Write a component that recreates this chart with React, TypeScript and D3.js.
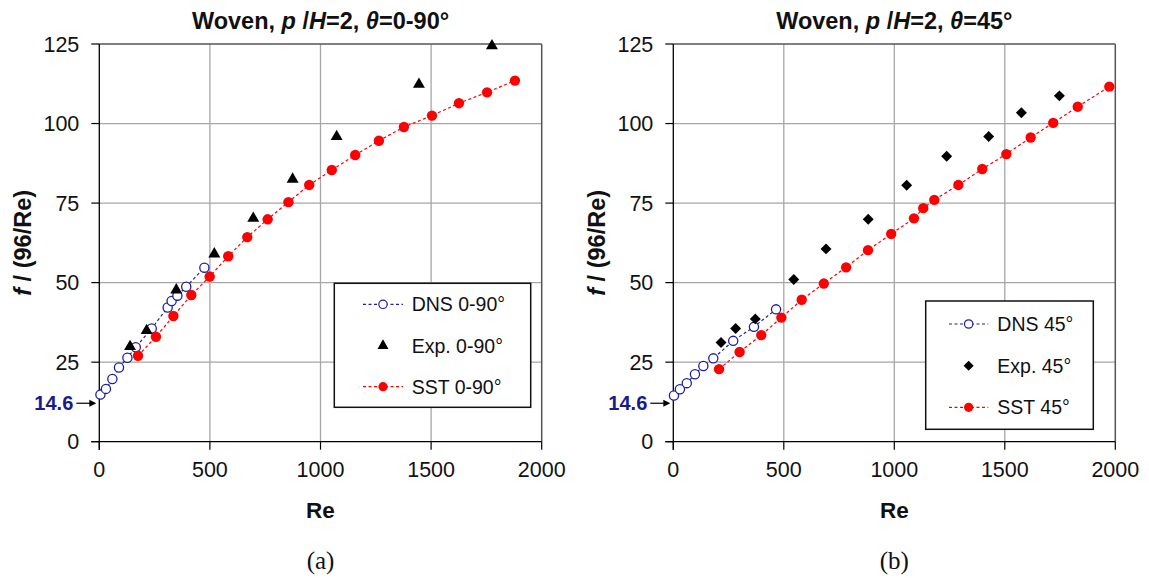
import React from 'react';
import * as d3 from 'd3';

const xTicks = [0, 500, 1000, 1500, 2000];
const yTicks = [0, 25, 50, 75, 100, 125];

// Panel (a): theta = 0-90°
const dnsA_Re = [5, 30, 59, 89, 127, 165, 237, 309, 327, 353, 393, 475];
const dnsA_f = [14.8, 16.6, 19.7, 23.3, 26.4, 29.7, 35.6, 42.2, 44.2, 45.9, 48.7, 54.7];
const expA_Re = [139, 214, 348, 520, 696, 874, 1073, 1445, 1775];
const expA_f = [29.9, 34.9, 47.7, 59.0, 70.2, 82.5, 95.9, 112.3, 124.4];
const sstA_Re = [175, 256, 335, 416, 499, 583, 669, 761, 855, 949, 1051, 1157, 1264, 1377, 1504, 1626, 1753, 1879];
const sstA_f = [27.0, 33.0, 39.5, 46.1, 51.9, 58.3, 64.3, 69.9, 75.3, 80.7, 85.4, 90.1, 94.6, 98.9, 102.5, 106.4, 109.8, 113.5];

// Panel (b): theta = 45°
const dnsB_Re = [3, 30, 61, 98, 136, 181, 271, 365, 465];
const dnsB_f = [14.5, 16.5, 18.4, 21.2, 23.8, 26.2, 31.7, 36.1, 41.6];
const expB_Re = [216, 282, 371, 545, 691, 882, 1056, 1237, 1427, 1575, 1747];
const expB_f = [31.2, 35.6, 38.6, 51.0, 60.6, 69.9, 80.6, 89.7, 95.9, 103.4, 108.7];
const sstB_Re = [207, 300, 398, 489, 581, 681, 782, 881, 986, 1089, 1131, 1181, 1290, 1398, 1507, 1617, 1719, 1830, 1973];
const sstB_f = [22.8, 28.2, 33.5, 39.0, 44.6, 49.7, 54.8, 60.2, 65.3, 70.2, 73.4, 76.0, 80.7, 85.7, 90.4, 95.6, 100.2, 105.3, 111.6];

const interceptValue = 14.6;

const FONT = "'Liberation Sans', Arial, sans-serif";
const NAVY = '#1f1f9e';
const RED = '#ff0000';

type PanelProps = {
  x0: number; x1: number; y0: number; y1: number;
  angle: string; caption: string;
  dnsRe: number[]; dnsF: number[]; expRe: number[]; expF: number[]; sstRe: number[]; sstF: number[];
  expShape: 'triangle' | 'diamond';
  legend: { left: number; top: number; right: number; bottom: number; rows: number[]; lineX0: number; lineX1: number; textX: number };
};

const zip = (a: number[], b: number[]) => a.map((v, i) => [v, b[i]] as [number, number]);

function ExpMarker({ shape, x, y, s = 1 }: { shape: string; x: number; y: number; s?: number }) {
  if (shape === 'triangle') {
    const sym = d3.symbol().type(d3.symbolTriangle).size(62 * s)();
    return <path d={sym || ''} transform={`translate(${x},${y})`} fill="#000" />;
  }
  const sym = d3.symbol().type(d3.symbolSquare).size(60 * s)();
  return <path d={sym || ''} transform={`translate(${x},${y}) rotate(45)`} fill="#000" />;
}

function Panel(p: PanelProps) {
  const xs = d3.scaleLinear().domain([0, 2000]).range([p.x0, p.x1]);
  const ys = d3.scaleLinear().domain([0, 125]).range([p.y1, p.y0]);
  const line = d3.line<[number, number]>().x(d => xs(d[0])).y(d => ys(d[1]));
  const dns = zip(p.dnsRe, p.dnsF);
  const exp = zip(p.expRe, p.expF);
  const sst = zip(p.sstRe, p.sstF);
  const cx = (p.x0 + p.x1) / 2;
  const cy = (p.y0 + p.y1) / 2;
  const yAnn = ys(interceptValue) + 8;
  const L = p.legend;
  const labels = [`DNS ${p.angle}`, `Exp. ${p.angle}`, `SST ${p.angle}`];
  return (
    <g>
      {/* grid */}
      {xTicks.slice(1, -1).map(t => (
        <line key={'gx' + t} x1={xs(t)} x2={xs(t)} y1={p.y0} y2={p.y1} stroke="#a6a6a6" strokeWidth={1.3} />
      ))}
      {yTicks.slice(1, -1).map(t => (
        <line key={'gy' + t} x1={p.x0} x2={p.x1} y1={ys(t)} y2={ys(t)} stroke="#a6a6a6" strokeWidth={1.3} />
      ))}
      {/* frame */}
      <line x1={p.x0} x2={p.x1} y1={p.y0} y2={p.y0} stroke="#555" strokeWidth={1.5} />
      <line x1={p.x1} x2={p.x1} y1={p.y0} y2={p.y1} stroke="#555" strokeWidth={1.5} />
      <line x1={p.x0} x2={p.x0} y1={p.y0} y2={p.y1 + 8} stroke="#000" strokeWidth={1.3} />
      <line x1={p.x0 - 8} x2={p.x1} y1={p.y1} y2={p.y1} stroke="#000" strokeWidth={1.3} />
      {/* ticks */}
      {yTicks.map(t => (
        <g key={'ty' + t}>
          <line x1={p.x0 - 8} x2={p.x0} y1={ys(t)} y2={ys(t)} stroke="#000" strokeWidth={1.2} />
          <text x={p.x0 - 20} y={ys(t) + 7.5} textAnchor="end" fontFamily={FONT} fontSize={21.5} fill="#111">{t}</text>
        </g>
      ))}
      {xTicks.map(t => (
        <g key={'tx' + t}>
          <line x1={xs(t)} x2={xs(t)} y1={p.y1} y2={p.y1 + 8} stroke="#000" strokeWidth={1.2} />
          <text x={xs(t)} y={p.y1 + 35} textAnchor="middle" fontFamily={FONT} fontSize={21.5} fill="#111">{t}</text>
        </g>
      ))}
      {/* titles */}
      <text x={cx} y={29} textAnchor="middle" fontFamily={FONT} fontSize={23.5} fontWeight="bold" fill="#111">
        Woven, <tspan fontStyle="italic">p</tspan> /<tspan fontStyle="italic">H</tspan>=2, <tspan fontStyle="italic">θ</tspan>={p.angle}
      </text>
      <text x={cx} y={p.y1 + 76} textAnchor="middle" fontFamily={FONT} fontSize={22.5} fontWeight="bold" fill="#111">Re</text>
      <text transform={`translate(${p.x0 - 68},${cy}) rotate(-90)`} textAnchor="middle" fontFamily={FONT} fontSize={23.5} fontWeight="bold" fill="#111">
        <tspan fontStyle="italic">f</tspan> / (96/Re)
      </text>
      <text x={cx} y={p.y1 + 127} textAnchor="middle" fontFamily="'Liberation Serif', 'Times New Roman', serif" fontSize={25} fill="#111">{p.caption}</text>
      {/* 14.6 annotation */}
      <text x={p.x0 - 26} y={yAnn + 7} textAnchor="end" fontFamily={FONT} fontSize={20} fontWeight="bold" fill="#1a1a8c">{interceptValue}</text>
      <line x1={p.x0 - 23} x2={p.x0 - 8} y1={yAnn} y2={yAnn} stroke="#000" strokeWidth={1.2} />
      <path d={`M${p.x0 - 3},${yAnn} L${p.x0 - 10},${yAnn - 3.5} L${p.x0 - 10},${yAnn + 3.5} Z`} fill="#000" />
      {/* series lines */}
      <path d={line(dns) || ''} fill="none" stroke={NAVY} strokeWidth={1.2} strokeDasharray="3,2.5" />
      <path d={line(sst) || ''} fill="none" stroke={RED} strokeWidth={1.2} strokeDasharray="3,2.5" />
      {/* markers */}
      {dns.map((d, i) => (
        <circle key={'d' + i} cx={xs(d[0])} cy={ys(d[1])} r={4.6} fill="#fff" stroke={NAVY} strokeWidth={1.3} />
      ))}
      {sst.map((d, i) => (
        <circle key={'s' + i} cx={xs(d[0])} cy={ys(d[1])} r={5.2} fill={RED} />
      ))}
      {exp.map((d, i) => (
        <ExpMarker key={'e' + i} shape={p.expShape} x={xs(d[0])} y={ys(d[1])} />
      ))}
      {/* legend */}
      <rect x={L.left} y={L.top} width={L.right - L.left} height={L.bottom - L.top} fill="#fff" stroke="#111" strokeWidth={1.5} />
      <line x1={L.lineX0} x2={L.lineX1} y1={L.rows[0]} y2={L.rows[0]} stroke={NAVY} strokeWidth={1.2} strokeDasharray="3,2.5" />
      <circle cx={(L.lineX0 + L.lineX1) / 2} cy={L.rows[0]} r={4.2} fill="#fff" stroke={NAVY} strokeWidth={1.2} />
      <ExpMarker shape={p.expShape} x={(L.lineX0 + L.lineX1) / 2} y={L.rows[1]} s={0.85} />
      <line x1={L.lineX0} x2={L.lineX1} y1={L.rows[2]} y2={L.rows[2]} stroke={RED} strokeWidth={1.2} strokeDasharray="3,2.5" />
      <circle cx={(L.lineX0 + L.lineX1) / 2} cy={L.rows[2]} r={4.6} fill={RED} />
      {labels.map((lb, i) => (
        <text key={lb} x={L.textX} y={L.rows[i] + 7} fontFamily={FONT} fontSize={19.5} fill="#111">{lb}</text>
      ))}
    </g>
  );
}

export default function App() {
  return (
    <svg width={1149} height={578} style={{ position: 'absolute', left: 0, top: 0, background: '#fff' }}>
      <rect x={0} y={0} width={1149} height={578} fill="#fff" />
      <Panel x0={99.3} x1={541.7} y0={44} y1={441.7} angle="0-90°" caption="(a)"
        dnsRe={dnsA_Re} dnsF={dnsA_f} expRe={expA_Re} expF={expA_f} sstRe={sstA_Re} sstF={sstA_f}
        expShape="triangle"
        legend={{ left: 334.3, top: 283.3, right: 530.7, bottom: 407.3, rows: [304.3, 345.7, 386.7], lineX0: 363, lineX1: 403, textX: 411.7 }} />
      <Panel x0={673.3} x1={1115.3} y0={44} y1={441.7} angle="45°" caption="(b)"
        dnsRe={dnsB_Re} dnsF={dnsB_f} expRe={expB_Re} expF={expB_f} sstRe={sstB_Re} sstF={sstB_f}
        expShape="diamond"
        legend={{ left: 925.7, top: 301, right: 1093.3, bottom: 429.3, rows: [324, 365.7, 407.3], lineX0: 949, lineX1: 988.3, textX: 997.3 }} />
    </svg>
  );
}
